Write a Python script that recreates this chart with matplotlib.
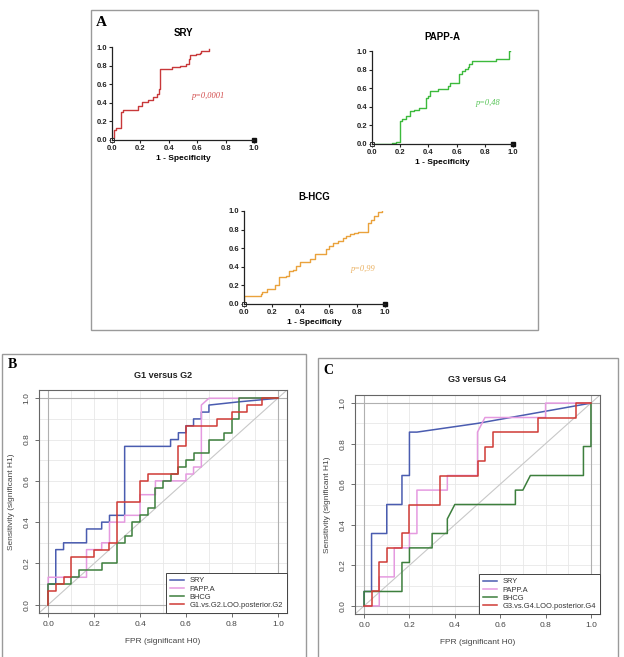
import matplotlib
matplotlib.use("Agg")
import matplotlib.pyplot as plt
from matplotlib.patches import Rectangle

plt.rcParams['font.family'] = ['Liberation Sans', 'DejaVu Sans']

# ---- panel A : GraphPad-style ROC curves (step breakpoints) ----
sry_a_x = [0, 0, 0.014, 0.028, 0.065, 0.065, 0.08, 0.17, 0.18, 0.21, 0.25, 0.29, 0.32, 0.33,
           0.34, 0.41, 0.42, 0.48, 0.52, 0.54, 0.55, 0.59, 0.62, 0.63, 0.68]
sry_a_y = [0, 0.02, 0.11, 0.13, 0.14, 0.30, 0.32, 0.32, 0.37, 0.41, 0.43, 0.46, 0.50, 0.55,
           0.76, 0.76, 0.78, 0.80, 0.82, 0.87, 0.91, 0.93, 0.94, 0.96, 0.98]

papp_a_x = [0, 0.14, 0.17, 0.20, 0.21, 0.24, 0.27, 0.30, 0.33, 0.38, 0.40, 0.41, 0.45, 0.47,
            0.54, 0.55, 0.62, 0.64, 0.66, 0.68, 0.69, 0.71, 0.86, 0.88, 0.97, 0.98]
papp_a_y = [0, 0.01, 0.02, 0.25, 0.27, 0.30, 0.35, 0.37, 0.39, 0.50, 0.52, 0.57, 0.57, 0.59,
            0.62, 0.66, 0.75, 0.78, 0.81, 0.83, 0.86, 0.89, 0.89, 0.91, 1.0, 1.0]

bhcg_a_x = [0, 0, 0.12, 0.13, 0.16, 0.22, 0.25, 0.30, 0.32, 0.35, 0.37, 0.40, 0.47, 0.50,
            0.52, 0.58, 0.60, 0.63, 0.67, 0.70, 0.72, 0.75, 0.78, 0.81, 0.88, 0.90, 0.92,
            0.95, 0.98]
bhcg_a_y = [0, 0.09, 0.11, 0.13, 0.16, 0.20, 0.29, 0.30, 0.35, 0.37, 0.41, 0.45, 0.48, 0.54,
            0.54, 0.59, 0.62, 0.66, 0.68, 0.71, 0.73, 0.75, 0.76, 0.77, 0.87, 0.90, 0.95,
            0.99, 1.0]

# ---- panel B : G1 versus G2 (curve vertices) ----
sry_b_x = [0, 0, 0.033, 0.033, 0.067, 0.067, 0.167, 0.167, 0.233, 0.233, 0.267, 0.267, 0.333,
           0.333, 0.533, 0.533, 0.567, 0.567, 0.6, 0.6, 0.633, 0.633, 0.667, 0.667, 0.7, 0.7,
           0.833, 1.0]
sry_b_y = [0, 0.1, 0.1, 0.267, 0.267, 0.3, 0.3, 0.367, 0.367, 0.4, 0.4, 0.433, 0.433, 0.767,
           0.767, 0.8, 0.8, 0.833, 0.833, 0.867, 0.867, 0.9, 0.9, 0.933, 0.933, 0.967, 0.983, 1.0]

papp_b_x = [0, 0, 0.167, 0.167, 0.233, 0.233, 0.267, 0.267, 0.333, 0.333, 0.4, 0.4, 0.467,
            0.467, 0.6, 0.6, 0.633, 0.633, 0.667, 0.667, 0.7, 1.0]
papp_b_y = [0, 0.133, 0.133, 0.267, 0.267, 0.3, 0.3, 0.4, 0.4, 0.433, 0.433, 0.533, 0.533,
            0.6, 0.6, 0.633, 0.633, 0.667, 0.667, 0.967, 1.0, 1.0]

bhcg_b_x = [0, 0, 0.1, 0.1, 0.133, 0.133, 0.233, 0.233, 0.3, 0.3, 0.333, 0.333, 0.367, 0.367,
            0.4, 0.4, 0.433, 0.433, 0.467, 0.467, 0.5, 0.5, 0.533, 0.533, 0.567, 0.567, 0.6,
            0.6, 0.633, 0.633, 0.7, 0.7, 0.767, 0.767, 0.8, 0.8, 0.833, 0.833, 1.0]
bhcg_b_y = [0, 0.1, 0.1, 0.133, 0.133, 0.167, 0.167, 0.2, 0.2, 0.3, 0.3, 0.333, 0.333, 0.4,
            0.4, 0.433, 0.433, 0.467, 0.467, 0.567, 0.567, 0.6, 0.6, 0.633, 0.633, 0.667,
            0.667, 0.7, 0.7, 0.733, 0.733, 0.8, 0.8, 0.833, 0.833, 0.9, 0.9, 1.0, 1.0]

loo_b_x = [0, 0, 0.033, 0.033, 0.067, 0.067, 0.1, 0.1, 0.2, 0.2, 0.267, 0.267, 0.3, 0.3, 0.4,
           0.4, 0.433, 0.433, 0.567, 0.567, 0.6, 0.6, 0.733, 0.733, 0.8, 0.8, 0.867, 0.867,
           0.933, 0.933, 1.0]
loo_b_y = [0, 0.067, 0.067, 0.1, 0.1, 0.133, 0.133, 0.233, 0.233, 0.267, 0.267, 0.3, 0.3, 0.5,
           0.5, 0.6, 0.6, 0.633, 0.633, 0.767, 0.767, 0.867, 0.867, 0.9, 0.9, 0.933, 0.933,
           0.967, 0.967, 1.0, 1.0]

# ---- panel C : G3 versus G4 (curve vertices) ----
sry_c_x = [0, 0, 0.033, 0.033, 0.1, 0.1, 0.167, 0.167, 0.2, 0.2, 0.233, 0.5, 1.0]
sry_c_y = [0, 0.071, 0.071, 0.357, 0.357, 0.5, 0.5, 0.643, 0.643, 0.857, 0.857, 0.9, 1.0]

papp_c_x = [0, 0.067, 0.067, 0.133, 0.133, 0.2, 0.2, 0.233, 0.233, 0.367, 0.367, 0.5, 0.5,
            0.533, 0.8, 0.8, 1.0]
papp_c_y = [0, 0, 0.143, 0.143, 0.286, 0.286, 0.357, 0.357, 0.571, 0.571, 0.643, 0.643, 0.857,
            0.929, 0.929, 1.0, 1.0]

bhcg_c_x = [0, 0, 0.167, 0.167, 0.2, 0.2, 0.3, 0.3, 0.367, 0.367, 0.4, 0.667, 0.667, 0.7,
            0.733, 0.967, 0.967, 1.0, 1.0]
bhcg_c_y = [0, 0.071, 0.071, 0.214, 0.214, 0.286, 0.286, 0.357, 0.357, 0.429, 0.5, 0.5,
            0.571, 0.571, 0.643, 0.643, 0.786, 0.786, 1.0]

loo_c_x = [0, 0.033, 0.033, 0.067, 0.067, 0.1, 0.1, 0.167, 0.167, 0.2, 0.2, 0.333, 0.333, 0.5,
           0.5, 0.533, 0.533, 0.567, 0.567, 0.767, 0.767, 0.933, 0.933, 1.0]
loo_c_y = [0, 0, 0.071, 0.071, 0.214, 0.214, 0.286, 0.286, 0.357, 0.357, 0.5, 0.5, 0.643,
           0.643, 0.714, 0.714, 0.786, 0.786, 0.857, 0.857, 0.929, 0.929, 1.0, 1.0]

ticks_a = [0.0, 0.2, 0.4, 0.6, 0.8, 1.0]
r_colors = ['#4a5cb0', '#e59ae0', '#3d7f3d', '#d03a35']
r_names = ['SRY', 'PAPP.A', 'BHCG']


def px(x, y, w, h):
    # pixel box (left, top, width, height) -> figure fraction rect
    return [x / 624, 1 - (y + h) / 657, w / 624, h / 657]


def graphpad(fig, rect, title, xs, ys, color, ptxt, pxy, pcolor):
    ax = fig.add_axes(rect)
    ax.plot(xs, ys, drawstyle='steps-post', color=color, lw=1.0)
    ax.set_xlim(0, 1)
    ax.set_ylim(0, 1)
    for s in ['top', 'right']:
        ax.spines[s].set_visible(False)
    for s in ['left', 'bottom']:
        ax.spines[s].set_linewidth(0.9)
        ax.spines[s].set_color('#222222')
    ax.set_xticks(ticks_a)
    ax.set_yticks(ticks_a)
    ax.set_xticklabels(['%.1f' % t for t in ticks_a], fontsize=5.5, fontweight='bold')
    ax.set_yticklabels(['%.1f' % t for t in ticks_a], fontsize=5.5, fontweight='bold')
    ax.tick_params(length=2.5, width=0.8, pad=1, colors='#222222')
    ax.set_title(title, fontsize=7, fontweight='bold', pad=8)
    ax.set_xlabel('1 - Specificity', fontsize=6, fontweight='bold', labelpad=2)
    ax.plot([1.0], [0.0], marker='s', ms=3, color='#111111', clip_on=False)
    ax.plot([0.0], [0.0], marker='s', ms=3, mfc='white', mec='#333333', mew=0.7, clip_on=False)
    ax.text(pxy[0], pxy[1], ptxt, color=pcolor, fontsize=6, style='italic',
            family='Liberation Serif', ha='center', va='center', transform=ax.transAxes)
    return ax


def rplot(fig, rect, title, curves, legend_last):
    ax = fig.add_axes(rect)
    ax.set_xlim(-0.04, 1.04)
    ax.set_ylim(-0.04, 1.04)
    grid = [i / 10 for i in range(11)]
    for g in grid:
        ax.axvline(g, color='#e8e8e8', lw=0.6, zorder=0)
        ax.axhline(g, color='#e8e8e8', lw=0.6, zorder=0)
    for g in [0.0, 1.0]:
        ax.axvline(g, color='#b0b0b0', lw=0.8, zorder=0.5)
        ax.axhline(g, color='#b0b0b0', lw=0.8, zorder=0.5)
    ax.plot([-0.04, 1.04], [-0.04, 1.04], color='#c8c8c8', lw=0.8, zorder=0.6)
    labels = r_names + [legend_last]
    for (xs, ys), c, lab in zip(curves, r_colors, labels):
        ax.plot(xs, ys, color=c, lw=1.1, label=lab)
    for s in ax.spines.values():
        s.set_color('#666666')
        s.set_linewidth(0.8)
    ax.set_xticks(ticks_a)
    ax.set_yticks(ticks_a)
    ax.set_xticklabels(['%.1f' % t for t in ticks_a], fontsize=6)
    ax.set_yticklabels(['%.1f' % t for t in ticks_a], fontsize=6, rotation=90, va='center')
    ax.tick_params(length=3, width=0.6, colors='#555555', labelcolor='#444444', pad=3)
    ax.set_title(title, fontsize=6.5, fontweight='bold', pad=9, color='#222222')
    ax.set_xlabel('FPR (significant H0)', fontsize=6, color='#444444', labelpad=7)
    ax.set_ylabel('Sensitivity (significant H1)', fontsize=6, color='#444444', labelpad=6)
    leg = ax.legend(loc='lower right', fontsize=5.4, borderaxespad=0, fancybox=False,
                    framealpha=1, edgecolor='#444444', handlelength=1.9, labelspacing=0.12,
                    borderpad=0.55, handletextpad=0.7)
    leg.get_frame().set_linewidth(0.7)
    for t in leg.get_texts():
        t.set_color('#333333')
    return ax


if __name__ == "__main__":
    fig = plt.figure(figsize=(6.24, 6.57), dpi=100)

    # panel frames
    fig.patches.append(Rectangle((91 / 624, 1 - 330 / 657), 447 / 624, 320 / 657,
                                 transform=fig.transFigure, fill=False, ec='#9a9a9a', lw=1))
    fig.patches.append(Rectangle((2 / 624, -0.01), 304 / 624, 1 - 354 / 657 + 0.01,
                                 transform=fig.transFigure, fill=False, ec='#9a9a9a', lw=1))
    fig.patches.append(Rectangle((318 / 624, -0.01), 300 / 624, 1 - 358 / 657 + 0.01,
                                 transform=fig.transFigure, fill=False, ec='#9a9a9a', lw=1))

    fig.text(96 / 624, 1 - 22 / 657, 'A', fontsize=11, fontweight='bold',
             family='Liberation Serif', va='center')
    fig.text(8 / 624, 1 - 365 / 657, 'B', fontsize=10, fontweight='bold',
             family='Liberation Serif', va='center')
    fig.text(323 / 624, 1 - 370 / 657, 'C', fontsize=10, fontweight='bold',
             family='Liberation Serif', va='center')

    graphpad(fig, px(112, 47, 142, 93), 'SRY', sry_a_x, sry_a_y, '#c8383a',
             'p=0,0001', (0.68, 0.47), '#d24a4a')
    graphpad(fig, px(372, 51, 141, 93), 'PAPP-A', papp_a_x, papp_a_y, '#3cba3c',
             'p=0,48', (0.82, 0.44), '#55c455')
    graphpad(fig, px(244, 211, 141, 93), 'B-HCG', bhcg_a_x, bhcg_a_y, '#eaa23c',
             'p=0,99', (0.84, 0.38), '#eab060')

    rplot(fig, px(39, 390, 248, 223), 'G1 versus G2',
          [(sry_b_x, sry_b_y), (papp_b_x, papp_b_y), (bhcg_b_x, bhcg_b_y), (loo_b_x, loo_b_y)],
          'G1.vs.G2.LOO.posterior.G2')
    rplot(fig, px(355, 395, 245, 219), 'G3 versus G4',
          [(sry_c_x, sry_c_y), (papp_c_x, papp_c_y), (bhcg_c_x, bhcg_c_y), (loo_c_x, loo_c_y)],
          'G3.vs.G4.LOO.posterior.G4')

    fig.savefig('out.png', dpi=100)
